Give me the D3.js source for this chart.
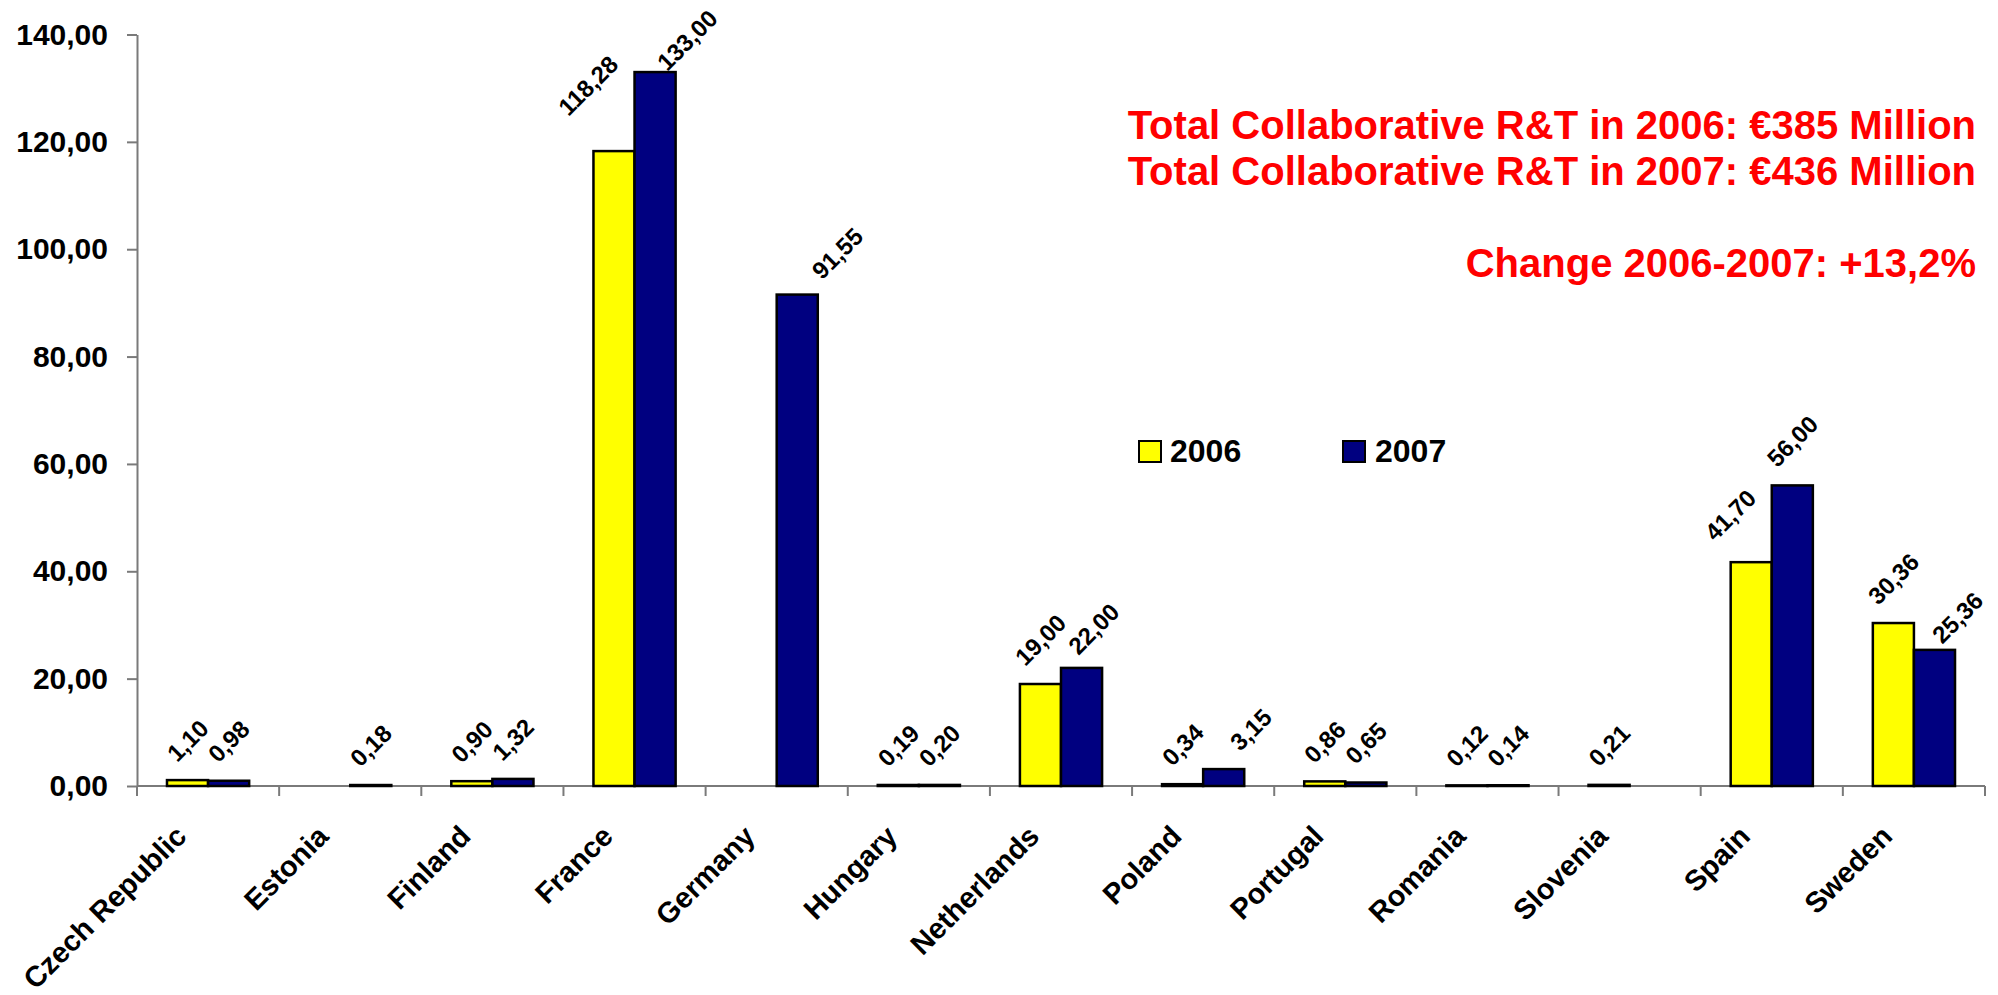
<!DOCTYPE html>
<html>
<head>
<meta charset="utf-8">
<script src="https://cdn.jsdelivr.net/npm/d3@7"></script>
<style>
  html, body { margin: 0; padding: 0; background: #fff; }
  svg { display: block; font-family: "Liberation Sans", Arial, sans-serif; }
</style>
</head>
<body>
<svg id="chart" width="1998" height="995"></svg>
<script>
// ---- data ----
const categories = ["Czech Republic", "Estonia", "Finland", "France", "Germany", "Hungary",
  "Netherlands", "Poland", "Portugal", "Romania", "Slovenia", "Spain", "Sweden"];
const seriesNames = ["2006", "2007"];
const values2006 = [1.10, null, 0.90, 118.28, null, 0.19, 19.00, 0.34, 0.86, 0.12, 0.21, 41.70, 30.36];
const values2007 = [0.98, 0.18, 1.32, 133.00, 91.55, 0.20, 22.00, 3.15, 0.65, 0.14, null, 56.00, 25.36];
const yTicks = [0, 20, 40, 60, 80, 100, 120, 140];
const notes = [
  "Total Collaborative R&T in 2006: €385 Million",
  "Total Collaborative R&T in 2007: €436 Million",
  "Change 2006-2007: +13,2%"
];

// ---- drawing ----
(function () {
const colors = { "2006": "#FFFF00", "2007": "#000080" };
const svg = d3.select("#chart");
const pLeft = 137, pRight = 1985, pTop = 34.5, pBottom = 786;

const x = d3.scaleBand().domain(categories).range([pLeft, pRight]).padding(0);
const xs = d3.scaleBand().domain(seriesNames).range([0, x.bandwidth()]).paddingInner(0).paddingOuter(0.73);
const y = d3.scaleLinear().domain([0, 140]).range([pBottom, pTop]);
const fmt = v => d3.format(".2f")(v).replace(".", ",");

const rows = [];
categories.forEach((c, i) => {
  [["2006", values2006[i]], ["2007", values2007[i]]].forEach(([s, v]) => {
    if (v !== null && v !== undefined) rows.push({ cat: c, series: s, value: v });
  });
});

// y axis
const yAxis = d3.axisLeft(y).tickValues(yTicks).tickSize(10).tickSizeOuter(0).tickPadding(19)
  .tickFormat(fmt);
const gy = svg.append("g").attr("transform", `translate(${pLeft},0)`).call(yAxis);
gy.selectAll("path.domain, .tick line").attr("stroke", "#7a7a7a").attr("stroke-width", 2);
gy.selectAll("text").attr("fill", "#000").attr("font-size", 30).attr("font-weight", "bold")
  .attr("font-family", '"Liberation Sans", Arial, sans-serif');

// x axis (ticks between categories)
const gx = svg.append("g").attr("transform", `translate(0,${pBottom})`);
gx.append("line").attr("x1", pLeft).attr("x2", pRight).attr("y1", 0).attr("y2", 0)
  .attr("stroke", "#7a7a7a").attr("stroke-width", 2);
const bounds = categories.map(c => x(c)).concat([x(categories[categories.length - 1]) + x.bandwidth()]);
gx.selectAll("line.tk").data(bounds).join("line").attr("class", "tk")
  .attr("x1", d => d).attr("x2", d => d).attr("y1", 0).attr("y2", 10)
  .attr("stroke", "#7a7a7a").attr("stroke-width", 2);
gx.selectAll("text.cat").data(categories).join("text").attr("class", "cat")
  .attr("text-anchor", "end")
  .attr("font-size", 29).attr("font-weight", "bold").attr("fill", "#000")
  .attr("transform", d => `translate(${x(d) + x.bandwidth() / 2 - 20},52) rotate(-45)`)
  .text(d => d);

// bars
svg.append("g").selectAll("rect").data(rows).join("rect")
  .attr("x", d => x(d.cat) + xs(d.series))
  .attr("width", xs.bandwidth())
  .attr("y", d => y(d.value))
  .attr("height", d => y(0) - y(d.value))
  .attr("fill", d => colors[d.series])
  .attr("stroke", "#000").attr("stroke-width", 2.5);

// data labels (rotated, placed above bars; a few nudged like the original)
const nudge = {
  "France|2006": [-26, -17], "France|2007": [32, 17], "Germany|2007": [40, 3],
  "Netherlands|2007": [12, 5], "Poland|2007": [27, 0], "Spain|2006": [-21, -3],
  "Sweden|2007": [23, 12]
};
const lblSize = 24;
const lbl = svg.append("g").selectAll("text").data(rows).join("text")
  .attr("text-anchor", "middle").attr("dy", "0.36em")
  .attr("font-size", lblSize).attr("font-weight", "bold").attr("fill", "#000")
  .text(d => fmt(d.value));
lbl.each(function (d) {
  const w = this.getComputedTextLength();
  const half = (w + 0.72 * lblSize) * Math.SQRT1_2 / 2;
  const n = nudge[d.cat + "|" + d.series] || [0, 0];
  const cx = x(d.cat) + xs(d.series) + xs.bandwidth() / 2 + n[0];
  const cy = y(d.value) - 17 - half + n[1];
  d3.select(this).attr("transform", `translate(${cx},${cy}) rotate(-45)`);
});

// legend
const lg = svg.append("g");
[["2006", 1139, 1170], ["2007", 1343, 1375]].forEach(([s, bx, tx]) => {
  lg.append("rect").attr("x", bx).attr("y", 441).attr("width", 22).attr("height", 21)
    .attr("fill", colors[s]).attr("stroke", "#000").attr("stroke-width", 2);
  lg.append("text").attr("x", tx).attr("y", 462).attr("font-size", 32).attr("font-weight", "bold")
    .attr("fill", "#000").text(s);
});

// notes
const noteY = [138.5, 184.5, 276.5];
svg.append("g").selectAll("text").data(notes).join("text")
  .attr("x", 1976).attr("y", (d, i) => noteY[i])
  .attr("text-anchor", "end").attr("font-size", 40).attr("font-weight", "bold")
  .attr("fill", "#FF0000").text(d => d);
})();
</script>
</body>
</html>
